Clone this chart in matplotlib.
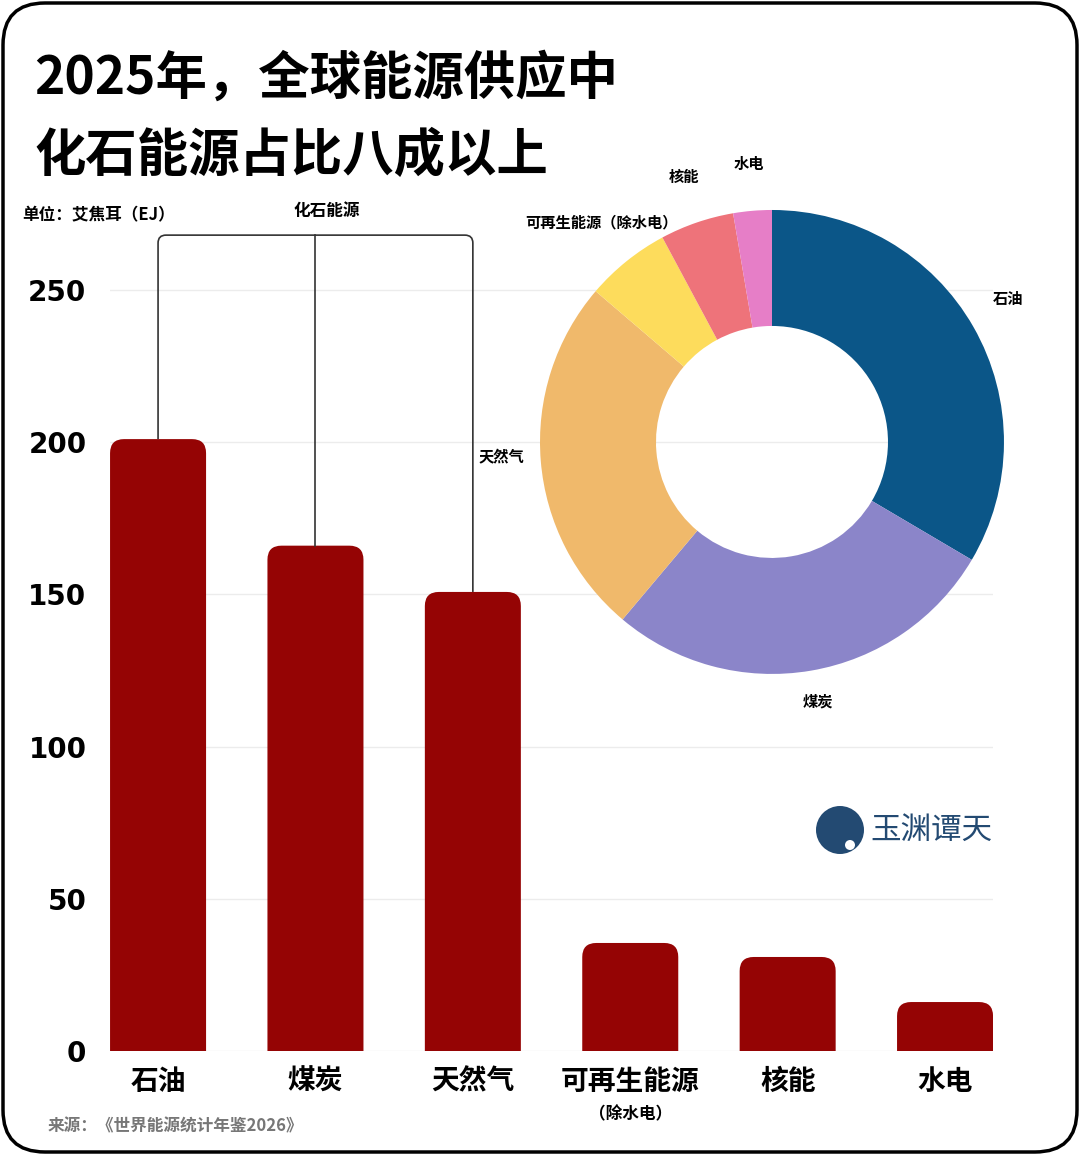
import matplotlib
matplotlib.use("Agg")
import matplotlib.pyplot as plt
from matplotlib.patches import FancyBboxPatch, Circle
from matplotlib.path import Path
from matplotlib.patches import PathPatch
import matplotlib.transforms as mtransforms

# data (EJ)
categories = ["石油", "煤炭", "天然气", "可再生能源", "核能", "水电"]
pie_labels = ["石油", "煤炭", "天然气", "可再生能源（除水电）", "核能", "水电"]
values = [201, 166, 150.8, 35.5, 30.9, 16.1]
yticks = [0, 50, 100, 150, 200, 250]
pie_colors = ["#0b5688", "#8b85c9", "#f0b96b", "#fddc5c", "#ee737a", "#e67ec7"]

CJK = ["Noto Sans CJK SC", "DejaVu Sans"]
BAR_COLOR = "#950404"

plt.rcParams["font.family"] = CJK

fig = plt.figure(figsize=(10.8, 11.55), dpi=100)

# outer rounded frame
frame = FancyBboxPatch((0.03, 0.03), 10.74, 11.49,
                       boxstyle="round,pad=0,rounding_size=0.42",
                       transform=fig.dpi_scale_trans, fill=False,
                       edgecolor="black", linewidth=2.5)
fig.patches.append(frame)

# ---- bar chart ----
ax = fig.add_axes([0.1019, 0.0900, 0.8176, 0.7117])
ax.set_xlim(-0.305, 5.305)
ax.set_ylim(0, 270)

bars = ax.bar(range(len(values)), values, width=0.61, color=BAR_COLOR)
# px per unit, for rounded tops
px_x = 157.4
px_y = 3.044
r = 14 / px_x
aspect = px_x / px_y
for b in bars:
    x0, w, h = b.get_x(), b.get_width(), b.get_height()
    b.remove()
    ax.add_patch(FancyBboxPatch((x0, -20), w, h + 20,
                                boxstyle=f"round,pad=0,rounding_size={r}",
                                mutation_aspect=aspect,
                                facecolor=BAR_COLOR, edgecolor="none", zorder=2))

ax.set_yticks(yticks)
ax.set_yticklabels([str(t) for t in yticks], family=["DejaVu Sans"],
                   fontsize=20, fontweight="bold")
ax.set_xticks(range(len(categories)))
ax.set_xticklabels(categories, fontsize=20, fontweight="bold")
ax.tick_params(axis="y", length=0, pad=17)
ax.tick_params(axis="x", length=0, pad=12)
ax.grid(axis="y", color="#ececec", linewidth=1)
ax.set_axisbelow(True)
for s in ax.spines.values():
    s.set_visible(False)

ax.text(3, -0.077, "（除水电）",
        transform=mtransforms.blended_transform_factory(ax.transData, ax.transAxes),
        ha="center", va="center", fontsize=12, fontweight="bold")

# fossil bracket
top = 268
rx, ry = 0.05, 2.6
verts = [(0, values[0]), (0, top - ry), (0, top), (rx, top),
         (2 - rx, top), (2, top), (2, top - ry), (2, values[2])]
codes = [Path.MOVETO, Path.LINETO, Path.CURVE3, Path.CURVE3,
         Path.LINETO, Path.CURVE3, Path.CURVE3, Path.LINETO]
ax.add_patch(PathPatch(Path(verts, codes), fill=False, edgecolor="#333333",
                       linewidth=1.2, clip_on=False, zorder=3))
ax.plot([1, 1], [values[1], top], color="#333333", linewidth=1.2,
        clip_on=False, zorder=3)
ax.text(1.07, 276, "化石能源", ha="center", va="center", fontsize=12,
        fontweight="bold")

# ---- donut ----
pax = fig.add_axes([0.5, 0.4165, 0.4296, 0.4017])
wedges, texts = pax.pie(values, labels=pie_labels, colors=pie_colors,
                        startangle=90, counterclock=False, labeldistance=1.17,
                        wedgeprops=dict(width=0.5, edgecolor="none"),
                        textprops=dict(fontsize=11, fontweight="bold"))
for t in texts:
    t.set_ha("center")
    t.set_va("bottom")
pax.set_xlim(-1, 1)
pax.set_ylim(-1, 1)
pax.set_facecolor("none")

# ---- titles ----
fig.text(0.032, 0.932, "2025年，全球能源供应中", fontsize=37, fontweight="black",
         va="center", ha="left")
fig.text(0.032, 0.865, "化石能源占比八成以上", fontsize=37, fontweight="black",
         va="center", ha="left")
fig.text(0.021, 0.814, "单位：艾焦耳（EJ）", fontsize=12, fontweight="bold",
         va="center", ha="left")
fig.text(0.044, 0.025, "来源：《世界能源统计年鉴2026》", fontsize=12,
         fontweight="bold", color="#777777", va="center", ha="left")

# logo
fig.patches.append(Circle((8.40, 11.55 - 8.30), 0.24, transform=fig.dpi_scale_trans,
                          facecolor="#234a72", edgecolor="none"))
fig.patches.append(Circle((8.50, 11.55 - 8.45), 0.05, transform=fig.dpi_scale_trans,
                          facecolor="white", edgecolor="none"))
fig.text(0.862, 1 - 830 / 1155, "玉渊谭天", fontsize=22, color="#234a72",
         ha="center", va="center")

fig.savefig("out.png", dpi=100)
